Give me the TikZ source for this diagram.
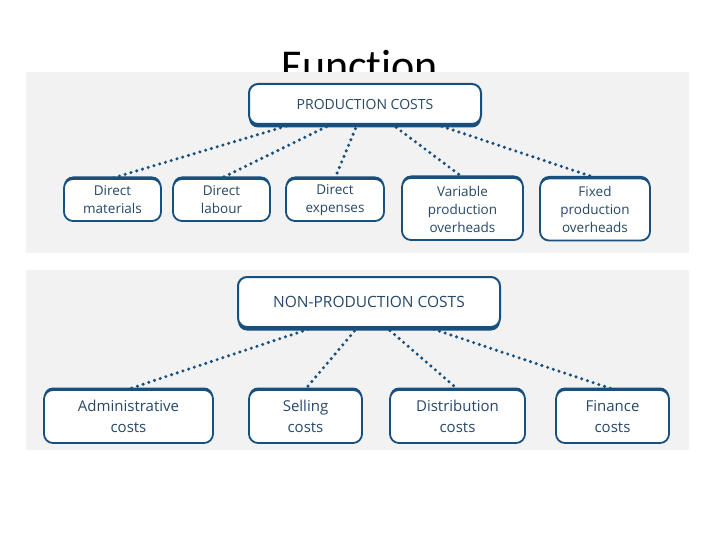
\documentclass[tikz,border=0pt]{standalone}
\usepackage{fontspec}
\setmainfont{Open Sans}
\newfontfamily\titlefont[Ligatures=NoCommon]{Carlito}
\usepackage{xcolor}
\usetikzlibrary{shadows}
\definecolor{boxblue}{HTML}{17507F}
\definecolor{textblue}{HTML}{274868}
\definecolor{panelgray}{HTML}{F2F2F2}
\begin{document}
\begin{tikzpicture}[x=1pt, y=-1pt,
    headbox/.style={draw=boxblue, line width=2pt, fill=white, rounded corners=9pt,
        text=textblue, align=center, inner sep=0pt,
        drop shadow={fill=boxblue, opacity=1, shadow xshift=0pt, shadow yshift=-3.5pt}},
    itembox/.style={draw=boxblue, line width=1.8pt, fill=white, rounded corners=9pt,
        text=textblue, align=center, inner sep=0pt,
        drop shadow={fill=boxblue, opacity=1, shadow xshift=0pt, shadow yshift=2.5pt}},
    dotline/.style={boxblue, line width=3.4pt, line cap=round,
        dash pattern=on 0pt off 6pt, shorten <=4pt, shorten >=1pt}]
    \useasboundingbox[fill=white] (0,0) rectangle (720,540);
    % title, half covered by the first panel
    \node (title) [anchor=base, font=\titlefont\fontsize{44}{44}\selectfont] at (360,81) {Function};
    \fill[panelgray] (26,72) rectangle (689,253);
    \fill[panelgray] (26,270) rectangle (689,450);

    % production costs
    \node (prod) [headbox, minimum width=232pt, minimum height=40pt,
        font=\fontsize{14}{16}\selectfont] at (365,104) {PRODUCTION COSTS};
    \node (dmat) [itembox, minimum width=97pt, minimum height=42pt,
        font=\fontsize{13.5}{18}\selectfont] at (112.5,200) {Direct\\materials};
    \node (dlab) [itembox, minimum width=97pt, minimum height=42pt,
        font=\fontsize{13.5}{18}\selectfont] at (221.5,200) {Direct\\labour};
    \node (dexp) [itembox, minimum width=98pt, minimum height=42pt,
        font=\fontsize{13.5}{18}\selectfont] at (335,200) {Direct\\expenses};
    \node (varo) [itembox, minimum width=121pt, minimum height=62pt,
        font=\fontsize{13.5}{18}\selectfont] at (462.5,209) {Variable\\production\\overheads};
    \node (fixo) [itembox, minimum width=110pt, minimum height=62pt,
        font=\fontsize{13.5}{18}\selectfont] at (595,209.5) {Fixed\\production\\overheads};
    \path[dotline] ([xshift=-75pt]prod.south) edge (dmat.north);
    \path[dotline] ([xshift=-35pt]prod.south) edge (dlab.north);
    \path[dotline] ([xshift=-8pt]prod.south) edge (dexp.north);
    \path[dotline] ([xshift=28pt]prod.south) edge (varo.north);
    \path[dotline] ([xshift=73pt]prod.south) edge (fixo.north);

    % non-production costs
    \node (nprod) [headbox, minimum width=262pt, minimum height=50pt,
        font=\fontsize{15.5}{18}\selectfont] at (369,302) {NON-PRODUCTION COSTS};
    \node (admc) [itembox, minimum width=169pt, minimum height=53pt,
        font=\fontsize{15}{21}\selectfont] at (128.5,416.5) {Administrative\\costs};
    \node (selc) [itembox, minimum width=113pt, minimum height=53pt,
        font=\fontsize{15}{21}\selectfont] at (305.5,416.5) {Selling\\costs};
    \node (disc) [itembox, minimum width=135pt, minimum height=53pt,
        font=\fontsize{15}{21}\selectfont] at (457.5,416.5) {Distribution\\costs};
    \node (finc) [itembox, minimum width=113pt, minimum height=53pt,
        font=\fontsize{15}{21}\selectfont] at (612.5,416.5) {Finance\\costs};
    \path[dotline] ([xshift=-57pt]nprod.south) edge (admc.north);
    \path[dotline] ([xshift=-12pt]nprod.south) edge (selc.north);
    \path[dotline] ([xshift=18pt]nprod.south) edge (disc.north);
    \path[dotline] ([xshift=61pt]nprod.south) edge (finc.north);
\end{tikzpicture}
\end{document}
